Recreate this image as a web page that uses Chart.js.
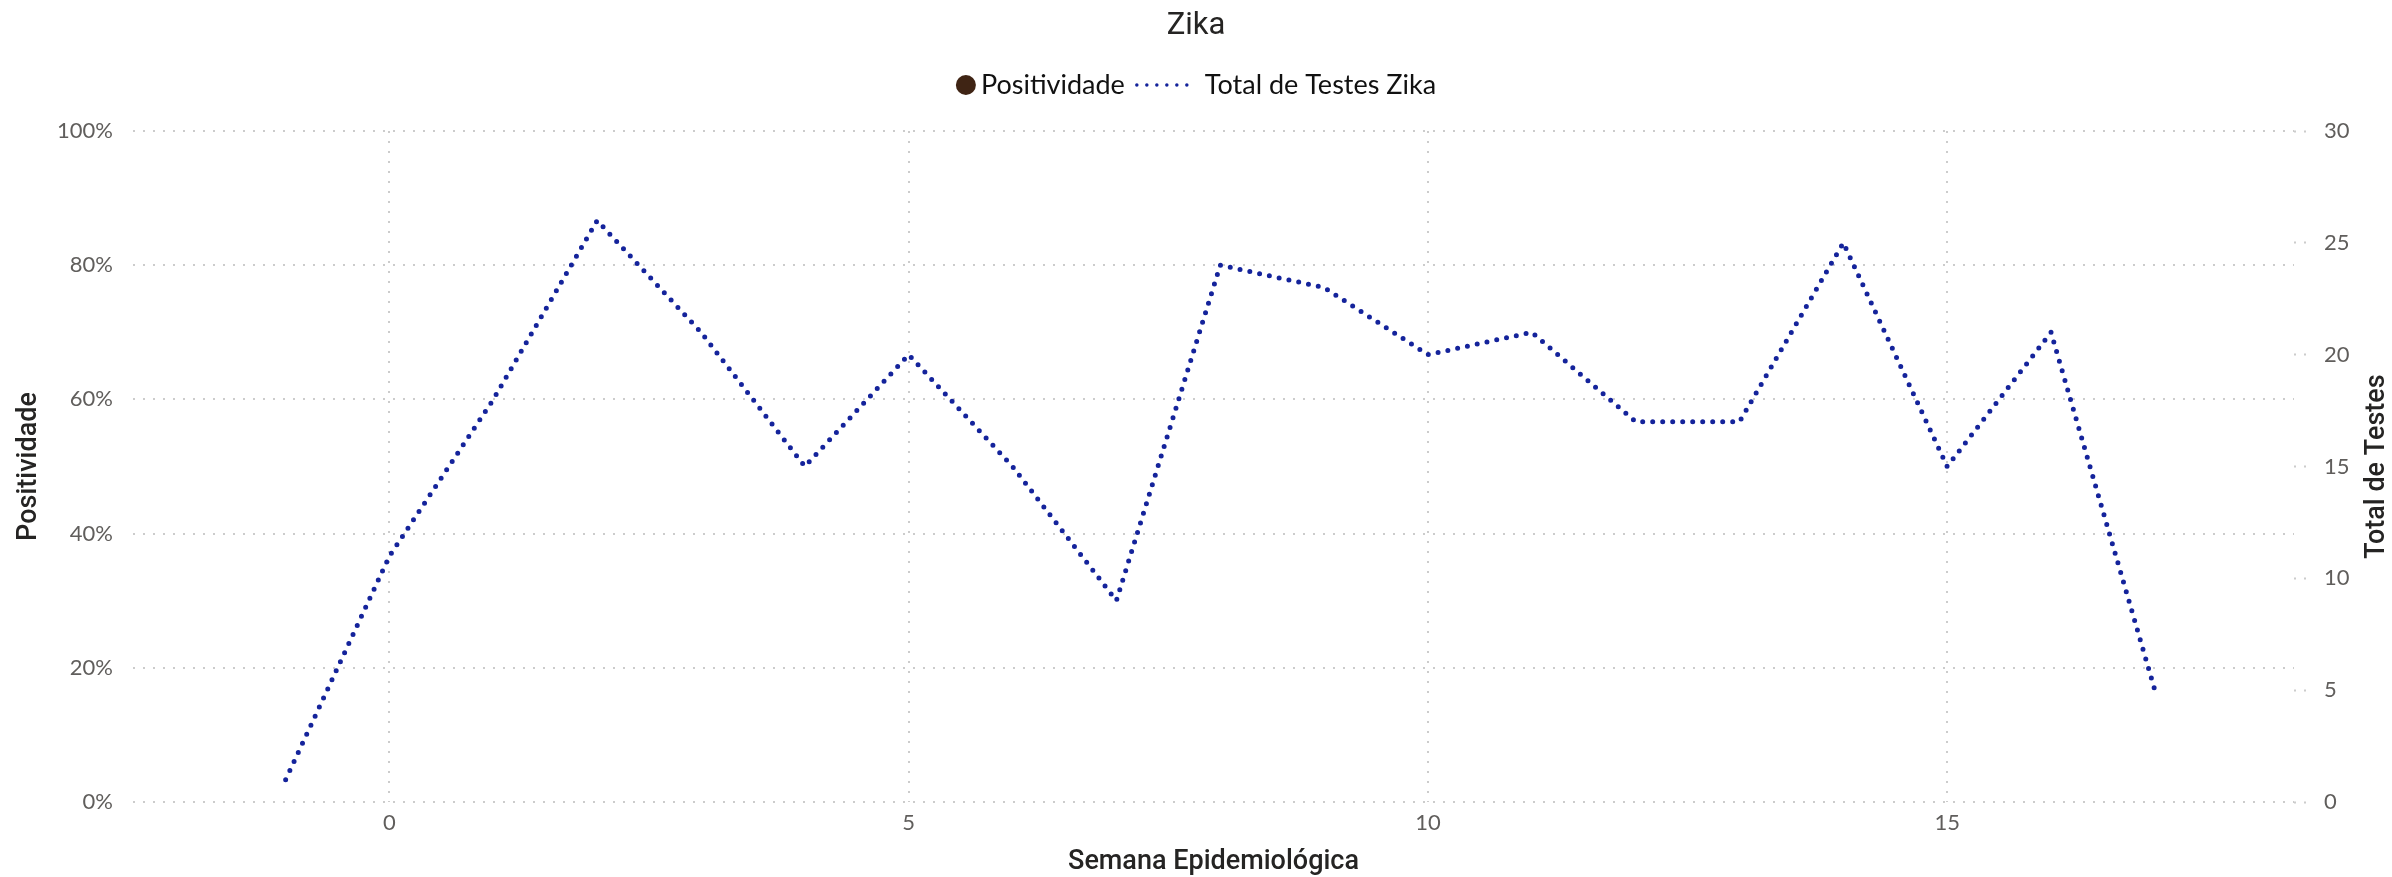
<!DOCTYPE html>
<html>
<head>
<meta charset="utf-8">
<title>Zika</title>
<script src="https://cdn.jsdelivr.net/npm/chart.js@4.4.1/dist/chart.umd.min.js"></script>
<style>
  html, body { margin: 0; padding: 0; background: #ffffff; }
  canvas { display: block; }
</style>
</head>
<body>
<canvas id="myChart" width="2392" height="877"></canvas>
<script>
  // semanas epidemiológicas e totais de testes
  const semanas = [-1, 0, 1, 2, 3, 4, 5, 6, 7, 8, 9, 10, 11, 12, 13, 14, 15, 16, 17];
  const totalTestes = [1, 11, 18, 26, 21, 15, 20, 15, 9, 24, 23, 20, 21, 17, 17, 25, 15, 21, 5];
  const positividade = [null, null, null, null, null, null, null, null, null, null, null, null, null, null, null, null, null, null, null];

  const xTicks = [0, 5, 10, 15];
  const yTicks = [0, 0.2, 0.4, 0.6, 0.8, 1];
  const y1Ticks = [0, 5, 10, 15, 20, 25, 30];

  const gridColor = '#cccccc';
  const tickColor = '#605e5c';
  const titleColor = '#252423';
  const tickFont = { family: 'Lato', size: 22 };
  const axisTitleFont = { family: 'Roboto', size: 27, weight: '500' };

  // legenda e título do eixo direito desenhados à mão
  const zikaLegend = {
    id: 'zikaLegend',
    afterDraw(chart) {
      const ctx = chart.ctx;
      const ds = chart.data.datasets;
      ctx.save();
      ctx.font = '27px Lato';
      ctx.textBaseline = 'middle';
      const w0 = ctx.measureText(ds[0].label).width;
      const w1 = ctx.measureText(ds[1].label).width;
      const total = 20 + 5 + w0 + 10 + 62 + 8 + w1;
      let x = chart.width / 2 - total / 2;
      const y = 85;

      ctx.fillStyle = ds[0].backgroundColor;
      ctx.beginPath();
      ctx.arc(x + 10, y, 10, 0, Math.PI * 2);
      ctx.fill();
      x += 25;
      ctx.fillStyle = '#111111';
      ctx.fillText(ds[0].label, x, y);
      x += w0 + 10;

      ctx.strokeStyle = ds[1].borderColor;
      ctx.lineWidth = 3.5;
      ctx.lineCap = 'round';
      ctx.setLineDash([0, 10]);
      ctx.beginPath();
      ctx.moveTo(x + 2, y);
      ctx.lineTo(x + 62, y);
      ctx.stroke();
      ctx.setLineDash([]);
      x += 62 + 8;
      ctx.fillText(ds[1].label, x, y);

      // título do eixo de totais, lido de baixo para cima
      const area = chart.chartArea;
      ctx.translate(2377, (area.top + area.bottom) / 2);
      ctx.rotate(-Math.PI / 2);
      ctx.font = '500 27px Roboto';
      ctx.fillStyle = titleColor;
      ctx.textAlign = 'center';
      ctx.fillText('Total de Testes', 0, 0);
      ctx.restore();
    }
  };

  const ctx = document.getElementById('myChart');

  new Chart(ctx, {
    type: 'line',
    data: {
      datasets: [
        {
          label: 'Positividade',
          data: semanas.map((s, i) => ({ x: s, y: positividade[i] })),
          yAxisID: 'y',
          borderColor: '#3f2414',
          backgroundColor: '#3f2414',
          pointRadius: 0
        },
        {
          label: 'Total de Testes Zika',
          data: semanas.map((s, i) => ({ x: s, y: totalTestes[i] })),
          yAxisID: 'y1',
          borderColor: '#14239b',
          backgroundColor: '#14239b',
          borderWidth: 5,
          borderDash: [0, 10],
          borderCapStyle: 'round',
          borderJoinStyle: 'round',
          tension: 0,
          pointRadius: 0
        }
      ]
    },
    options: {
      responsive: false,
      animation: false,
      devicePixelRatio: 1,
      layout: { padding: 0 },
      plugins: {
        legend: { display: false },
        tooltip: { enabled: false },
        title: {
          display: true,
          text: 'Zika',
          color: titleColor,
          font: { family: 'Roboto', size: 31, weight: 'normal' },
          padding: { top: 8, bottom: 85.8 }
        }
      },
      scales: {
        x: {
          type: 'linear',
          min: -2.47,
          max: 18.34,
          afterBuildTicks: (scale) => { scale.ticks = xTicks.map((v) => ({ value: v })); },
          afterFit: (scale) => { scale.height = 75; },
          border: { display: false, dash: [2, 8] },
          grid: { color: gridColor, lineWidth: 2, drawTicks: false },
          ticks: { padding: 8, font: tickFont, color: tickColor },
          title: {
            display: true,
            text: 'Semana Epidemiológica',
            color: titleColor,
            font: { family: 'Roboto', size: 27, weight: '500', lineHeight: 1 },
            padding: { top: 0, bottom: 1.5 }
          }
        },
        y: {
          position: 'left',
          min: 0,
          max: 1,
          afterBuildTicks: (scale) => { scale.ticks = yTicks.map((v) => ({ value: v })); },
          afterFit: (scale) => { scale.width = 133; },
          border: { display: false, dash: [2, 8] },
          grid: { color: gridColor, lineWidth: 2, drawTicks: false },
          ticks: {
            padding: 20,
            font: tickFont,
            color: tickColor,
            callback: (v) => Math.round(v * 100) + '%'
          },
          title: {
            display: true,
            text: 'Positividade',
            color: titleColor,
            font: axisTitleFont,
            padding: { top: 13, bottom: 0 }
          }
        },
        y1: {
          position: 'right',
          min: 0,
          max: 30,
          afterBuildTicks: (scale) => { scale.ticks = y1Ticks.map((v) => ({ value: v })); },
          afterFit: (scale) => { scale.width = 98; },
          border: { display: false },
          grid: {
            drawOnChartArea: false,
            drawTicks: true,
            tickLength: 12,
            tickColor: gridColor,
            tickWidth: 2,
            tickBorderDash: [2, 8]
          },
          ticks: { padding: 18, font: tickFont, color: tickColor }
        }
      }
    },
    plugins: [zikaLegend]
  });
</script>
</body>
</html>
